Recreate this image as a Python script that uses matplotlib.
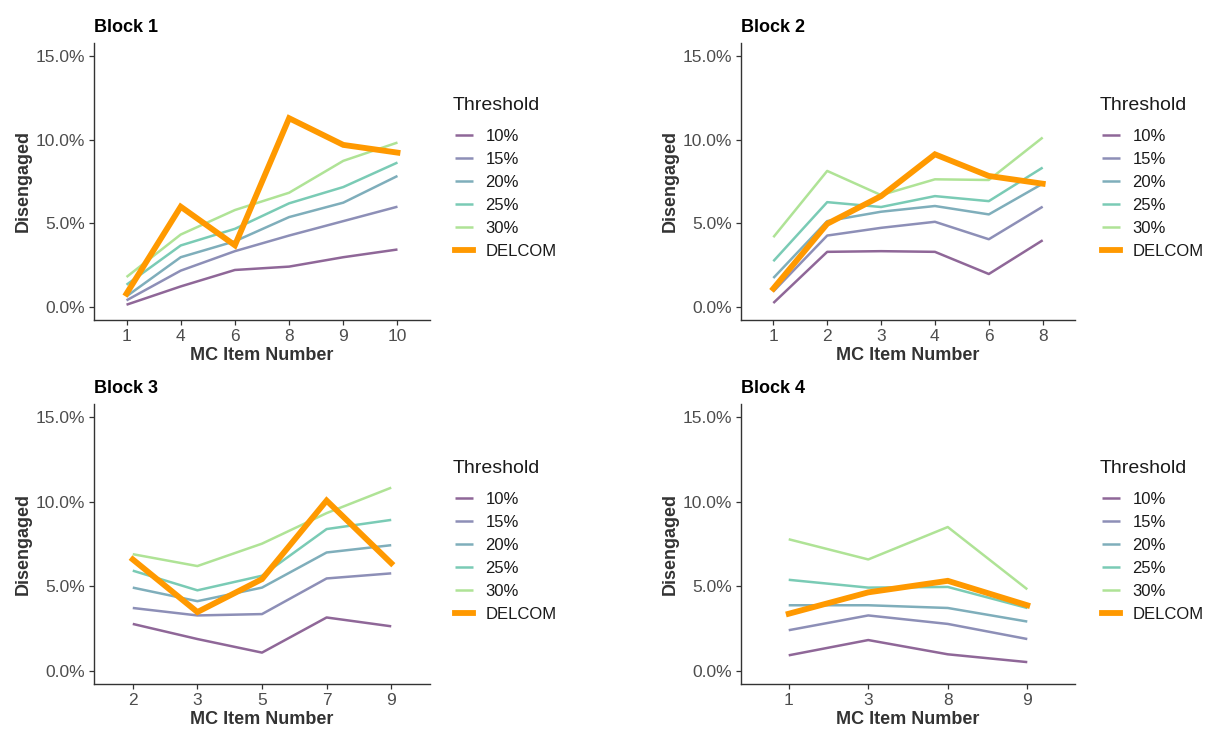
#disengagement by MC item for each block, thresholds vs DELCOM

#import necessary
from matplotlib import pyplot as plt
import matplotlib.ticker as mticker
import numpy as np

plt.rcParams['font.family'] = ['Liberation Sans', 'DejaVu Sans']

#data (percent disengaged)
thresholds = ['10%', '15%', '20%', '25%', '30%']

items1 = ['1', '4', '6', '8', '9', '10']
b1_10 = [0.16, 1.25, 2.23, 2.43, 2.99, 3.45]
b1_15 = [0.42, 2.19, 3.35, 4.28, 5.14, 6.0]
b1_20 = [0.66, 2.99, 3.94, 5.38, 6.24, 7.83]
b1_25 = [1.35, 3.69, 4.68, 6.2, 7.17, 8.63]
b1_30 = [1.81, 4.34, 5.8, 6.83, 8.73, 9.82]
b1_delcom = [0.82, 6.0, 3.7, 11.27, 9.68, 9.22]

items2 = ['1', '2', '3', '4', '6', '8']
b2_10 = [0.26, 3.31, 3.35, 3.31, 1.99, 4.0]
b2_15 = [0.95, 4.28, 4.74, 5.1, 4.06, 6.0]
b2_20 = [1.75, 5.14, 5.7, 6.04, 5.54, 7.37]
b2_25 = [2.75, 6.27, 5.98, 6.63, 6.33, 8.33]
b2_30 = [4.18, 8.13, 6.69, 7.63, 7.59, 10.12]
b2_delcom = [1.12, 4.98, 6.63, 9.12, 7.83, 7.37]

items3 = ['2', '3', '5', '7', '9']
b3_10 = [2.79, 1.9, 1.1, 3.17, 2.65]
b3_15 = [3.73, 3.29, 3.37, 5.47, 5.77]
b3_20 = [4.93, 4.13, 4.93, 7.0, 7.43]
b3_25 = [5.93, 4.77, 5.63, 8.38, 8.92]
b3_30 = [6.9, 6.2, 7.52, 9.32, 10.82]
b3_delcom = [6.59, 3.49, 5.43, 10.06, 6.37]

items4 = ['1', '3', '8', '9']
b4_10 = [0.94, 1.84, 1.0, 0.54]
b4_15 = [2.42, 3.29, 2.79, 1.9]
b4_20 = [3.89, 3.89, 3.73, 2.93]
b4_25 = [5.39, 4.93, 4.97, 3.73]
b4_30 = [7.78, 6.59, 8.5, 4.83]
b4_delcom = [3.39, 4.65, 5.33, 3.89]

blocks = [
    ('Block 1', items1, [b1_10, b1_15, b1_20, b1_25, b1_30], b1_delcom),
    ('Block 2', items2, [b2_10, b2_15, b2_20, b2_25, b2_30], b2_delcom),
    ('Block 3', items3, [b3_10, b3_15, b3_20, b3_25, b3_30], b3_delcom),
    ('Block 4', items4, [b4_10, b4_15, b4_20, b4_25, b4_30], b4_delcom),
]

#viridis (end=0.8) at alpha 0.6 on white
colors = ['#8f6798', '#8d8fb7', '#7faebb', '#7acbb5', '#afe396']
delcom_color = '#ff9900'

W, H = 1210, 731
fig = plt.figure(figsize=(W/100, H/100), dpi=100)

#axes boxes in pixels: left, top, right, bottom
boxes = [(94, 43, 430, 320), (741, 43, 1075, 320),
         (94, 404, 430, 684), (741, 404, 1075, 684)]
#legend title centre (x left, y) in pixels
legend_xy = [(453, 105), (1100, 105), (453, 468), (1100, 468)]

for (title, items, series, delcom), (l, t, r, b), (lx, ly) in zip(blocks, boxes, legend_xy):
    ax = fig.add_axes([l/W, 1-b/H, (r-l)/W, (b-t)/H])
    x = np.arange(len(items))
    for lab, vals, c in zip(thresholds, series, colors):
        ax.plot(x, vals, color=c, lw=1.8, label=lab, solid_capstyle='butt')
    ax.plot(x, delcom, color=delcom_color, lw=4.2, label='DELCOM', solid_joinstyle='miter')
    ax.set_xlim(-0.6, len(items)-1+0.6)
    ax.set_ylim(-0.75, 15.75)
    ax.set_xticks(x)
    ax.set_xticklabels(items)
    ax.set_yticks([0, 5, 10, 15])
    ax.yaxis.set_major_formatter(mticker.FuncFormatter(lambda v, p: '%.1f%%' % v))
    for s in ['top', 'right']:
        ax.spines[s].set_visible(False)
    for s in ['left', 'bottom']:
        ax.spines[s].set_color('#333333')
        ax.spines[s].set_linewidth(1.0)
    ax.tick_params(colors='#333333', labelcolor='#4d4d4d', labelsize=12.5, length=3.5, width=0.9, pad=3)
    ax.set_xlabel('MC Item Number', fontsize=13, fontweight='bold', color='#333333', labelpad=2)
    ax.set_ylabel('Disengaged', fontsize=13, fontweight='bold', color='#333333', labelpad=3)
    ax.set_title(title, loc='left', fontsize=13, fontweight='bold', pad=8)
    #legend: title as separate text so the gap matches
    fig.text(lx/W, 1-ly/H, 'Threshold', fontsize=14, color='#1a1a1a', ha='left', va='center')
    leg = ax.legend(loc='upper left', bbox_to_anchor=((lx+2)/W, 1-129/H-(ly-105)/H),
                    bbox_transform=fig.transFigure, frameon=False, fontsize=12,
                    borderaxespad=0, borderpad=0, handlelength=1.1, handletextpad=0.72,
                    labelspacing=0.48)
    for txt in leg.get_texts():
        txt.set_color('#1a1a1a')

fig.savefig('out.png', dpi=100)
